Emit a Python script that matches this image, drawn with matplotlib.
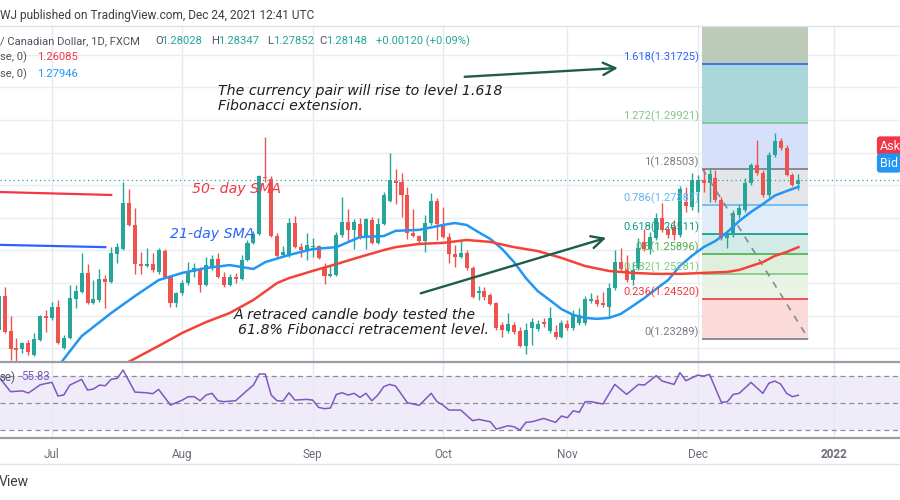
import numpy as np
import matplotlib.pyplot as plt
from matplotlib.lines import Line2D

plt.rcParams['font.family'] = ['Roboto', 'DejaVu Sans']

# -------------------- data --------------------
# bar index: 0 = 1 Jul 2021, one bar per weekday
bars = np.arange(-9, 127)

opens = [1.2356, 1.2460, 1.2353, 1.2301, 1.2298, 1.2316, 1.2279, 1.2325, 1.2399, 1.2393,
         1.2426, 1.2301, 1.2331, 1.2451, 1.2472, 1.2531, 1.2439, 1.2448, 1.2512, 1.2503,
         1.2589, 1.2604, 1.2746, 1.2678, 1.2558, 1.2552, 1.2558, 1.2534, 1.2598, 1.2518,
         1.2439, 1.2469, 1.2500, 1.2534, 1.2543, 1.2494, 1.2546, 1.2574, 1.2518, 1.2494,
         1.2518, 1.2512, 1.2571, 1.2623, 1.2650, 1.2825, 1.2819, 1.2644, 1.2586, 1.2586,
         1.2684, 1.2610, 1.2601, 1.2610, 1.2614, 1.2549, 1.2522, 1.2525, 1.2647, 1.2687,
         1.2663, 1.2681, 1.2641, 1.2693, 1.2623, 1.2681, 1.2752, 1.2813, 1.2810, 1.2770,
         1.2653, 1.2644, 1.2629, 1.2684, 1.2752, 1.2678, 1.2641, 1.2589, 1.2580, 1.2592,
         1.2546, 1.2469, 1.2476, 1.2463, 1.2439, 1.2371, 1.2353, 1.2371, 1.2353, 1.2307,
         1.2362, 1.2359, 1.2380, 1.2353, 1.2350, 1.2334, 1.2374, 1.2362, 1.2377, 1.2377,
         1.2445, 1.2448, 1.2439, 1.2426, 1.2485, 1.2565, 1.2543, 1.2509, 1.2546, 1.2626,
         1.2604, 1.2638, 1.2700, 1.2663, 1.2672, 1.2647, 1.2749, 1.2733, 1.2779, 1.2816,
         1.2807, 1.2822, 1.2755, 1.2638, 1.2647, 1.2709, 1.2724, 1.2807, 1.2862, 1.2837,
         1.2770, 1.2893, 1.2936, 1.2914, 1.2831, 1.28028]

highs = [1.2479, 1.2488, 1.2399, 1.2331, 1.2319, 1.2325, 1.2347, 1.2402, 1.2417, 1.2442,
         1.2448, 1.2341, 1.2494, 1.2494, 1.2592, 1.2558, 1.2509, 1.2543, 1.2525, 1.2610,
         1.2623, 1.2810, 1.2788, 1.2730, 1.2595, 1.2607, 1.2592, 1.2607, 1.2604, 1.2525,
         1.2472, 1.2509, 1.2565, 1.2561, 1.2549, 1.2580, 1.2586, 1.2592, 1.2534, 1.2528,
         1.2531, 1.2586, 1.2632, 1.2660, 1.2831, 1.2948, 1.2828, 1.2653, 1.2614, 1.2700,
         1.2706, 1.2623, 1.2653, 1.2638, 1.2617, 1.2561, 1.2555, 1.2656, 1.2764, 1.2727,
         1.2697, 1.2700, 1.2700, 1.2703, 1.2700, 1.2779, 1.2899, 1.2850, 1.2837, 1.2795,
         1.2727, 1.2647, 1.2709, 1.2776, 1.2761, 1.2733, 1.2653, 1.2617, 1.2632, 1.2601,
         1.2552, 1.2491, 1.2488, 1.2469, 1.2442, 1.2380, 1.2408, 1.2380, 1.2365, 1.2377,
         1.2393, 1.2387, 1.2393, 1.2426, 1.2371, 1.2387, 1.2387, 1.2417, 1.2423, 1.2460,
         1.2469, 1.2463, 1.2472, 1.2500, 1.2601, 1.2607, 1.2586, 1.2565, 1.2638, 1.2665,
         1.2656, 1.2715, 1.2746, 1.2675, 1.2693, 1.2798, 1.2795, 1.2837, 1.2831, 1.2853,
         1.2850, 1.2847, 1.2764, 1.2663, 1.2724, 1.2743, 1.2822, 1.2868, 1.2939, 1.2847,
         1.2902, 1.2960, 1.2945, 1.2923, 1.2837, 1.28347]

lows = [1.2341, 1.2347, 1.2264, 1.2258, 1.2286, 1.2279, 1.2276, 1.2322, 1.2350, 1.2387,
        1.2313, 1.2298, 1.2328, 1.2423, 1.2469, 1.2436, 1.2436, 1.2442, 1.2423, 1.2500,
        1.2561, 1.2601, 1.2675, 1.2528, 1.2528, 1.2549, 1.2534, 1.2528, 1.2515, 1.2426,
        1.2426, 1.2463, 1.2494, 1.2518, 1.2472, 1.2491, 1.2540, 1.2515, 1.2488, 1.2491,
        1.2500, 1.2509, 1.2568, 1.2620, 1.2647, 1.2810, 1.2641, 1.2580, 1.2583, 1.2580,
        1.2607, 1.2580, 1.2571, 1.2580, 1.2574, 1.2497, 1.2518, 1.2522, 1.2641, 1.2626,
        1.2604, 1.2635, 1.2604, 1.2620, 1.2620, 1.2678, 1.2749, 1.2743, 1.2703, 1.2635,
        1.2641, 1.2617, 1.2595, 1.2678, 1.2632, 1.2638, 1.2561, 1.2549, 1.2577, 1.2540,
        1.2454, 1.2448, 1.2448, 1.2433, 1.2356, 1.2334, 1.2347, 1.2344, 1.2304, 1.2282,
        1.2310, 1.2353, 1.2365, 1.2347, 1.2328, 1.2331, 1.2356, 1.2356, 1.2371, 1.2371,
        1.2439, 1.2430, 1.2426, 1.2393, 1.2479, 1.2534, 1.2503, 1.2494, 1.2540, 1.2598,
        1.2589, 1.2632, 1.2656, 1.2638, 1.2632, 1.2641, 1.2718, 1.2724, 1.2718, 1.2779,
        1.2749, 1.2749, 1.2632, 1.2607, 1.2641, 1.2700, 1.2718, 1.2801, 1.2831, 1.2764,
        1.2764, 1.2887, 1.2908, 1.2828, 1.2798, 1.27852]

closes = [1.2460, 1.2350, 1.2298, 1.2295, 1.2316, 1.2289, 1.2328, 1.2399, 1.2393, 1.2426,
          1.2316, 1.2331, 1.2454, 1.2476, 1.2531, 1.2439, 1.2451, 1.2512, 1.2503, 1.2592,
          1.2610, 1.2746, 1.2678, 1.2558, 1.2552, 1.2558, 1.2540, 1.2601, 1.2518, 1.2439,
          1.2469, 1.2500, 1.2534, 1.2546, 1.2494, 1.2555, 1.2574, 1.2518, 1.2494, 1.2518,
          1.2512, 1.2571, 1.2623, 1.2650, 1.2828, 1.2822, 1.2644, 1.2583, 1.2595, 1.2684,
          1.2610, 1.2601, 1.2617, 1.2614, 1.2577, 1.2522, 1.2528, 1.2647, 1.2687, 1.2663,
          1.2687, 1.2641, 1.2697, 1.2623, 1.2681, 1.2770, 1.2816, 1.2807, 1.2770, 1.2653,
          1.2644, 1.2629, 1.2684, 1.2752, 1.2681, 1.2641, 1.2589, 1.2580, 1.2592, 1.2546,
          1.2457, 1.2476, 1.2457, 1.2436, 1.2362, 1.2356, 1.2374, 1.2350, 1.2307, 1.2356,
          1.2380, 1.2374, 1.2374, 1.2393, 1.2334, 1.2377, 1.2362, 1.2402, 1.2402, 1.2451,
          1.2451, 1.2436, 1.2433, 1.2485, 1.2565, 1.2543, 1.2509, 1.2540, 1.2607, 1.2604,
          1.2641, 1.2700, 1.2663, 1.2647, 1.2647, 1.2788, 1.2736, 1.2816, 1.2816, 1.2807,
          1.2834, 1.2755, 1.2638, 1.2650, 1.2715, 1.2730, 1.2807, 1.2862, 1.2837, 1.2770,
          1.2893, 1.2936, 1.2914, 1.2831, 1.2801, 1.28148]

last_close = 1.28148

# moving averages
sma21_bars = [0, 2, 5, 10, 14, 18, 22, 26, 30, 32, 34, 36, 40, 44, 48, 52, 56, 58, 62, 66,
              68, 70, 72, 74, 76, 78, 80, 82, 84, 86, 88, 90, 92, 94, 96, 98, 100, 102, 104, 106,
              108, 110, 112, 114, 116, 118, 120, 122, 124, 126]
sma21 = [1.2218, 1.2267, 1.2337, 1.2408, 1.2460, 1.2509, 1.2531, 1.2546, 1.2555, 1.2549,
         1.2543, 1.2564, 1.2586, 1.2604, 1.2610, 1.2641, 1.2644, 1.2660, 1.2663, 1.2678,
         1.2684, 1.2678, 1.2656, 1.2635, 1.2604, 1.2564, 1.2515, 1.2475, 1.2448, 1.2420,
         1.2402, 1.2393, 1.2390, 1.2393, 1.2405, 1.2429, 1.2454, 1.2482, 1.2509, 1.2552,
         1.2583, 1.2610, 1.2629, 1.2656, 1.2690, 1.2718, 1.2742, 1.2768, 1.2782, 1.2795]

sma50_bars = [12, 18, 22, 26, 30, 34, 38, 40, 44, 48, 52, 56, 58, 62, 66, 70, 74, 78, 82, 86,
              90, 94, 98, 102, 106, 110, 114, 116, 118, 120, 122, 124, 126]
sma50 = [1.2249, 1.2307, 1.2347, 1.2380, 1.2408, 1.2448, 1.2500, 1.2515, 1.2537, 1.2558,
         1.2580, 1.2601, 1.2610, 1.2620, 1.2623, 1.2632, 1.2626, 1.2610, 1.2598, 1.2577,
         1.2552, 1.2537, 1.2531, 1.2528, 1.2528, 1.2531, 1.2534, 1.2540, 1.2552, 1.2564,
         1.2583, 1.2595, 1.2610]

# RSI(14)
rsi_bars = [-9, -7, -5, -4, -3, -2, -1, 0, 1, 2, 3, 5, 6, 7, 8, 9, 10, 11, 12, 14,
            16, 17, 18, 20, 22, 23, 24, 25, 26, 27, 28, 29, 31, 33, 34, 35, 36, 37, 38, 39,
            40, 41, 43, 44, 45, 46, 47, 48, 49, 50, 51, 52, 53, 54, 55, 56, 57, 58, 60, 62,
            64, 65, 66, 67, 69, 71, 72, 74, 75, 77, 78, 79, 80, 81, 83, 85, 86, 87, 88, 89,
            90, 91, 93, 95, 97, 99, 100, 102, 103, 105, 106, 107, 109, 110, 111, 113, 114, 115, 116, 118,
            120, 121, 122, 123, 124, 125, 126]
rsi = [69.5, 58.4, 59.0, 57.4, 60.4, 63.5, 64.5, 65.3, 55.2, 56.0,
       63.3, 67.5, 59.6, 60.4, 63.3, 62.8, 67.6, 68.3, 74.4, 58.1,
       57.6, 56.9, 60.1, 48.5, 52.2, 54.7, 54.7, 51.7, 55.9, 57.2,
       51.7, 51.0, 51.7, 59.6, 63.3, 71.5, 71.5, 55.9, 51.7, 51.5,
       57.6, 52.2, 52.7, 52.2, 46.8, 45.8, 46.3, 56.4, 57.6, 55.9,
       57.2, 54.2, 57.2, 51.7, 55.9, 62.1, 63.8, 62.6, 50.2, 48.3,
       57.2, 51.0, 48.5, 44.8, 44.8, 36.9, 37.9, 36.1, 30.7, 33.2,
       32.4, 30.0, 35.7, 36.1, 38.6, 35.7, 40.4, 39.1, 44.3, 43.1,
       51.0, 51.0, 49.3, 63.8, 56.4, 63.8, 63.3, 70.3, 66.3, 63.8,
       72.5, 66.5, 70.7, 70.0, 71.2, 50.5, 51.0, 56.4, 57.2, 65.3,
       57.2, 64.6, 66.3, 64.1, 57.2, 54.7, 55.8]

# Fibonacci tool (retracement + extension)
fib_ratios = ['0', '0.236', '0.382', '0.5', '0.618', '0.786', '1', '1.272', '1.618']
fib_prices = [1.23289, 1.24520, 1.25281, 1.25896, 1.26511, 1.27387, 1.28503, 1.29921, 1.31725]
fib_top = 1.36939  # 2.618 level, off chart
fib_line_colors = ['#787b86', '#f23645', '#81c784', '#4caf50', '#089981',
                   '#64b5f6', '#787b86', '#81c784', '#2962ff']
fib_zone_colors = ['#fbd6d6', '#e7f3e4', '#dbefd8', '#cde9e5', '#dcebf9',
                   '#e3e4e7', '#d3ddfb', '#a1d3d5', '#b5c5af']
fib_x0, fib_x1 = 109.8, 127.7

# author drawings (bar, price)
red_trend = ([-8.8, 10.0], [1.2779, 1.2770])
blue_trend = ([-8.8, 9.0], [1.2617, 1.2610])
arrow_up = ((69.2, 1.3132), (96.0, 1.3160))
arrow_mid = ((61.8, 1.2466), (94.0, 1.2641))

tick_bars = [0, 22, 44, 66, 87, 109, 132]
tick_labels = ['Jul', 'Aug', 'Sep', 'Oct', 'Nov', 'Dec', '2022']

UP, DOWN = '#26a69a', '#ef5350'

# -------------------- layout --------------------
fig = plt.figure(figsize=(9, 5), dpi=100)
fig.patch.set_facecolor('white')

def fy(py):
    return 1 - py / 500.0

xlim = (-8.78, 143.15)
ax = fig.add_axes([0, fy(362), 1, (362 - 26) / 500.0])
ax_rsi = fig.add_axes([0, fy(438), 1, (438 - 362) / 500.0])

for a in (ax, ax_rsi):
    a.set_xlim(*xlim)
    for s in a.spines.values():
        s.set_visible(False)
    a.set_xticks(tick_bars)
    a.set_axisbelow(True)
    a.grid(axis='x', color='#e6eaf0', lw=1)

ax.set_ylim(1.22577, 1.32883)
ax.set_yticks(np.arange(1.23, 1.325, 0.01))
ax.grid(axis='y', color='#e9edf2', lw=1)
ax.tick_params(length=0, labelbottom=False, labelleft=False)

# fib zones and levels
zone_edges = fib_prices + [fib_top]
for i, col in enumerate(fib_zone_colors):
    ax.fill_between([fib_x0, fib_x1], zone_edges[i], zone_edges[i + 1],
                    color=col, alpha=0.9, lw=0, zorder=1)
for r, p, col in zip(fib_ratios, fib_prices, fib_line_colors):
    ax.hlines(p, fib_x0, fib_x1, color=col, lw=1.2, zorder=2)
    ax.text(fib_x0 - 0.6, p + 0.0003, f'{r}({p:.5f})', ha='right', va='bottom',
            color=col, fontsize=8, zorder=6)
ax.plot([fib_x0, fib_x1], [fib_prices[6], fib_prices[0]], color='#868993',
        lw=1.2, ls=(0, (4, 4)), zorder=5)

# candles
o, h, l, c = map(np.asarray, (opens, highs, lows, closes))
cols = np.where(c >= o, UP, DOWN)
ax.vlines(bars, l, h, colors=cols, lw=1, zorder=3)
ax.bar(bars, np.maximum(np.abs(c - o), 0.00025), bottom=np.minimum(o, c),
       width=0.68, color=cols, lw=0, zorder=4)

# moving averages
ax.plot(sma21_bars, sma21, color='#2196f3', lw=1.8, zorder=5)
ax.plot(sma50_bars, sma50, color='#f44336', lw=1.8, zorder=5)

# current price line
ax.axhline(last_close, color=UP, lw=0.9, ls=(0, (1, 2.5)), zorder=2)

# author drawings
ax.plot(*red_trend, color='#f23645', lw=1.6, zorder=5)
ax.plot(*blue_trend, color='#2962ff', lw=1.6, zorder=5)
for start, end in (arrow_up, arrow_mid):
    ax.annotate('', xy=end, xytext=start,
                arrowprops=dict(arrowstyle='->', color='#1f5c4b', lw=1.7,
                                mutation_scale=22), zorder=6)

ital = dict(family='DejaVu Sans', style='italic', fontsize=10.2, zorder=7)
ax.text(28.0, 1.3089, 'The currency pair will rise to level 1.618', color='#1e1e1e',
        va='center', **ital)
ax.text(28.0, 1.3043, 'Fibonacci extension.', color='#1e1e1e', va='center', **ital)
ax.text(23.6, 1.2788, '50- day SMA', color='#f23645', va='center', **ital)
ax.text(19.9, 1.2650, '21-day SMA', color='#2962ff', va='center', **ital)
ax.text(30.6, 1.2402, 'A retraced candle body tested the', color='#1e1e1e',
        va='center', **ital)
ax.text(31.4, 1.2356, '61.8% Fibonacci retracement level.', color='#1e1e1e',
        va='center', **ital)

# RSI pane
ax_rsi.set_ylim(24.1, 80.4)
ax_rsi.axhspan(30, 70, color='#f0ebf8', lw=0, zorder=0)
for lvl in (70, 50, 30):
    ax_rsi.axhline(lvl, color='#8a8d96', lw=0.9, ls=(0, (4, 3)), zorder=1)
ax_rsi.plot(rsi_bars, rsi, color='#7e57c2', lw=1.1, zorder=3)
ax_rsi.set_yticks([])
ax_rsi.set_xticklabels(tick_labels)
ax_rsi.tick_params(axis='x', length=0, pad=7, labelsize=8.5, labelcolor='#6a6d78')
ax_rsi.get_xticklabels()[-1].set_fontweight('bold')

# pane borders
for py, col, lw in ((26, '#e0e3eb', 1), (362, '#9a9da6', 1.6),
                    (438, '#9a9da6', 1.6), (464, '#e0e3eb', 1)):
    fig.add_artist(Line2D([0, 1], [fy(py), fy(py)], color=col, lw=lw))

# header texts
def ftext(px, py, s, **kw):
    fig.text(px / 900.0, fy(py), s, va='center', **kw)

ftext(0, 15, 'WJ published on TradingView.com, Dec 24, 2021 12:41 UTC',
      fontsize=8.6, color='#3a3d45')
ftext(0, 41, '/ Canadian Dollar, 1D, FXCM', fontsize=8.1, color='#50535e')
for px, s, col in ((155, 'O', '#50535e'), (161, '1.28028', UP),
                   (211, 'H', '#50535e'), (218, '1.28347', UP),
                   (267, 'L', '#50535e'), (273, '1.27852', UP),
                   (319, 'C', '#50535e'), (326, '1.28148', UP),
                   (376, '+0.00120 (+0.09%)', UP)):
    ftext(px, 41, s, fontsize=8.1, color=col)
ftext(0, 57, 'se, 0)', fontsize=8.1, color='#50535e')
ftext(37, 57, '1.26085', fontsize=8.1, color='#f23645')
ftext(0, 74, 'se, 0)', fontsize=8.1, color='#50535e')
ftext(37, 74, '1.27946', fontsize=8.1, color='#2196f3')
ftext(0, 377, 'se)', fontsize=8.3, color='#50535e')
ftext(21, 377, '55.83', fontsize=8.3, color='#7e57c2')
ftext(-1, 482, 'View', fontsize=10, color='#3a3d45')

# ask / bid tags
ftext(880, 146, 'Ask', fontsize=9, color='white',
      bbox=dict(boxstyle='round,pad=0.25', fc='#f23645', ec='none'))
ftext(880, 163, 'Bid', fontsize=9, color='white',
      bbox=dict(boxstyle='round,pad=0.25', fc='#2196f3', ec='none'))

fig.savefig('out.png', dpi=100, facecolor='white')
